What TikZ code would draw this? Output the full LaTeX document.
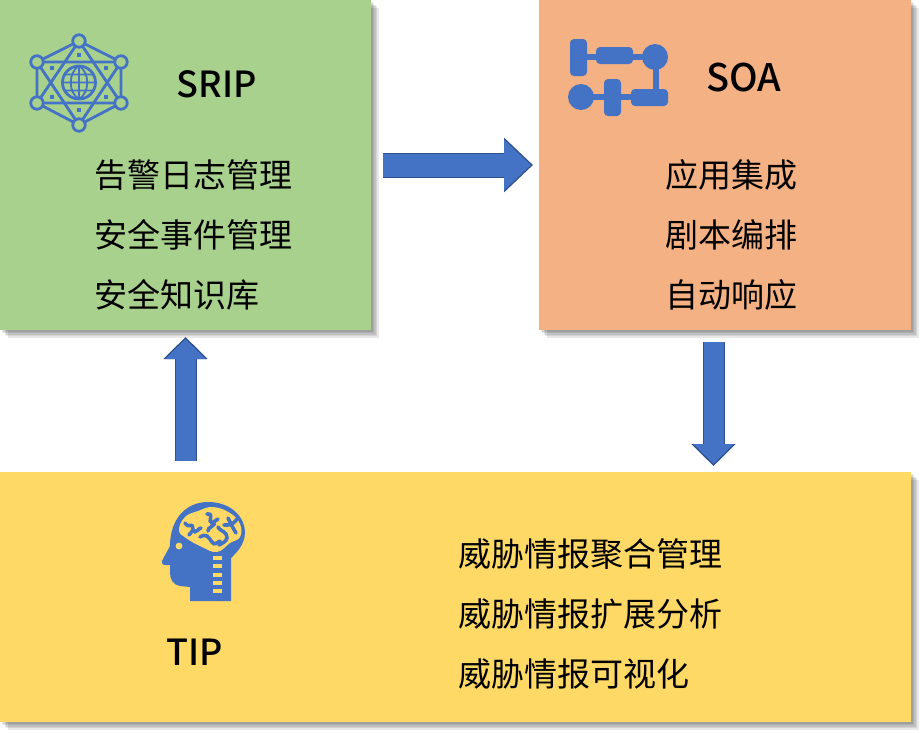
\documentclass[tikz,border=0pt]{standalone}
\usepackage{fontspec}
\setmainfont{Noto Sans CJK SC}
\newfontfamily\titlefont{Noto Sans CJK SC Medium}
\usetikzlibrary{arrows.meta, positioning, shadows}
\definecolor{sripgreen}{HTML}{A9D18E}
\definecolor{soaorange}{HTML}{F4B183}
\definecolor{tipyellow}{HTML}{FFD966}
\definecolor{iconblue}{HTML}{4472C4}
\definecolor{edgeblue}{HTML}{2F528F}

\begin{document}
\begin{tikzpicture}[
    x=1pt, y=-1pt,
    softshadow/.style={drop shadow={shadow xshift=#1pt, shadow yshift=-#1pt, fill=black, opacity=0.09}},
    panel/.style={rectangle, inner sep=0pt, outer sep=0pt,
      softshadow=7.5, softshadow=6, softshadow=4.5, softshadow=3, softshadow=1.5},
    title/.style={inner sep=0pt, font=\titlefont\fontsize{36}{36}\selectfont, text=black},
    entry/.style={inner sep=0pt, anchor=west, font=\fontsize{33}{36}\selectfont, text=black},
    flowarr/.style n args={3}{line width=#1pt, draw=iconblue, shorten >=2pt,
      -{Triangle[length=#2pt, width=#3pt]},
      preaction={draw=edgeblue, line width=#1pt+2pt, shorten >=0pt,
        -{Triangle[length=#2pt+2pt, width=#3pt+4pt]}}},
    hubline/.style={draw=iconblue, line width=2.8pt},
    hubdot/.style={circle, draw=iconblue, line width=2.8pt, fill=sripgreen,
      minimum size=12.5pt, inner sep=0pt},
    links/.style={draw=iconblue, line width=6pt},
    block/.style={fill=iconblue, rounded corners=4pt},
    swirl/.style={draw=iconblue, line width=3.6pt, line cap=round}
  ]
    \useasboundingbox (0,0) rectangle (921,732);

    \node[panel, fill=sripgreen, minimum width=371pt, minimum height=330pt] (srip) at (185.5,165) {};
    \node[panel, fill=soaorange, minimum width=372pt, minimum height=330pt] (soa) at (725,165) {};
    \node[panel, fill=tipyellow, minimum width=911pt, minimum height=250pt] (tip) at (455.5,597) {};

    \node[title] (sriptitle) at (216.5,84) {SRIP};
    \node[title, font=\titlefont\fontsize{38}{38}\selectfont] (soatitle) at (743.5,78) {SOA};
    \node[title] (tiptitle) at (194.5,652) {TIP};

    \node[entry] (alarm) at (94,175) {告警日志管理};
    \node[entry] (event) at (94,235) {安全事件管理};
    \node[entry] (know) at (94,295) {安全知识库};

    \node[entry] (app) at (665.5,175) {应用集成};
    \node[entry] (play) at (665.5,235) {剧本编排};
    \node[entry] (auto) at (665.5,295) {自动响应};

    \node[entry] (agg) at (458.5,554) {威胁情报聚合管理};
    \node[entry] (ext) at (458.5,614) {威胁情报扩展分析};
    \node[entry] (vis) at (458.5,674) {威胁情报可视化};

    \coordinate[right=12pt of srip.east] (sripout);
    \coordinate[left=6pt of soa.west] (soain);
    \coordinate[below=7pt of srip.south] (sripin);
    \coordinate[above=11pt of tip.north -| srip.south] (tipout);
    \coordinate (soaspot) at (713.5,330);
    \coordinate[below=12pt of soaspot] (soaout);
    \coordinate[above=6pt of soaspot |- tip.north] (tipin);

    \draw[flowarr={23}{27}{49}] (sripout) -- (soain);
    \draw[flowarr={20}{20}{39}] (tipout) -- (sripin);
    \draw[flowarr={20}{20}{39}] (soaout) -- (tipin);

    % hub icon
    \coordinate (h1) at (79,41);
    \coordinate (h2) at (121,62);
    \coordinate (h3) at (121,103);
    \coordinate (h4) at (79,125);
    \coordinate (h5) at (37,103);
    \coordinate (h6) at (37,62);
    \draw[hubline] (h1) -- (h2) -- (h3) -- (h4) -- (h5) -- (h6) -- cycle;
    \draw[hubline] (h1) -- (h3) -- (h5) -- cycle;
    \draw[hubline] (h4) -- (h2) -- (h6) -- cycle;
    \foreach \p in {h1,h2,h3,h4,h5,h6}
      \node[hubdot] at (\p) {};
    \foreach \p in {(79,55),(52,68),(106,68),(52,97),(106,97),(79,110)}
      \fill[iconblue] \p ++(-1.7,-1.7) rectangle ++(3.4,3.4);
    \draw[hubline, fill=sripgreen] (79,82.5) circle (16.5pt);
    \draw[iconblue, line width=1.8pt] (79,66) -- (79,99) (63,82.5) -- (95,82.5)
      (65,74.5) -- (93,74.5) (65,90.5) -- (93,90.5)
      (79,66) .. controls (68,72) and (68,93) .. (79,99)
      (79,66) .. controls (90,72) and (90,93) .. (79,99);

    % flow icon
    \draw[links] (587,57) -- (655,57);
    \draw[iconblue, line width=6.5pt] (656,57) -- (656,97);
    \draw[links] (581,97) -- (640,97);
    \fill[block] (570,39) rectangle (587,76);
    \fill[block] (596,47) rectangle (633,64);
    \fill[iconblue] (655,57) circle (13pt);
    \fill[block] (631,89) rectangle (668,106);
    \fill[iconblue] (581,97) circle (13pt);
    \fill[block] (604,79) rectangle (621,116);

    % head icon
    \fill[iconblue] (231,601) -- (190,601) -- (190,587) -- (180,586)
      .. controls (173,585) and (170,579) .. (170,573) -- (170,565) -- (165,565)
      .. controls (162,565) and (161,562) .. (163,559) -- (170,546)
      .. controls (170,520) and (185,502) .. (208,502)
      .. controls (232,502) and (245,518) .. (245,532)
      .. controls (245,545) and (236,553) .. (231,558) -- cycle;
    \fill[tipyellow] plot[smooth cycle, tension=0.7] coordinates
      {(179,530) (185,517) (198,511) (213,507) (230,513) (240,524)
       (240,537) (230,543) (217,552) (202,547) (186,538)};
    \fill[tipyellow] (179,546) circle (3.4pt);
    \foreach \y in {556,564,572.5,581,589}
      \fill[tipyellow] (213,\y) rectangle (222,\y+4);
    \draw[swirl] (185,523) .. controls (190,530) and (192,520) .. (193,530)
      .. controls (195,535) and (200,527) .. (201,528);
    \draw[swirl] (189,535) -- (193,530);
    \draw[swirl] (207,514) .. controls (215,513) and (207,522) .. (212,523)
      .. controls (219,524) and (206,528) .. (208,531);
    \draw[swirl] (218,519) -- (212,523);
    \draw[swirl] (200,537) .. controls (207,533) and (208,537) .. (212,542)
      .. controls (214,546) and (218,542) .. (220,541);
    \draw[swirl] (218,527) .. controls (222,533) and (226,530) .. (227,538)
      .. controls (226,542) and (222,543) .. (219,545);
    \draw[swirl] (237,519) .. controls (232,526) and (228,525) .. (224,525)
      (228,518) -- (232,526) -- (236,533);
  \end{tikzpicture}
\end{document}
